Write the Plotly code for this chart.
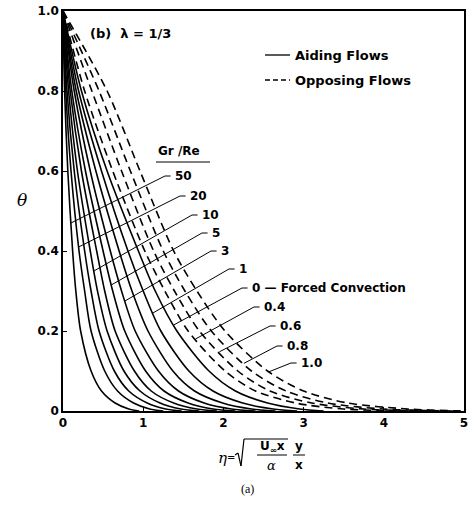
import numpy as np
import plotly.graph_objects as go

# ---------------- data ----------------
theta_levels = [1.0, 0.8, 0.6, 0.4, 0.3, 0.2, 0.1, 0.05, 0.02, 0.005, 0.0]

# aiding flows (solid), eta at each theta level, steepest first
aiding_labels = ["50", "20", "", "10", "", "5", "3", "", "1", "0"]
aiding_eta = [
    [0, 0.020, 0.06, 0.12, 0.16, 0.22, 0.35, 0.48, 0.65, 0.82, 0.95],
    [0, 0.035, 0.10, 0.20, 0.27, 0.35, 0.52, 0.68, 0.88, 1.08, 1.25],
    [0, 0.050, 0.14, 0.27, 0.35, 0.45, 0.64, 0.82, 1.05, 1.28, 1.48],
    [0, 0.070, 0.18, 0.34, 0.43, 0.55, 0.76, 0.96, 1.21, 1.47, 1.70],
    [0, 0.090, 0.23, 0.42, 0.52, 0.65, 0.89, 1.10, 1.38, 1.67, 1.92],
    [0, 0.110, 0.28, 0.50, 0.62, 0.77, 1.03, 1.26, 1.56, 1.87, 2.15],
    [0, 0.140, 0.34, 0.59, 0.73, 0.90, 1.19, 1.44, 1.76, 2.10, 2.40],
    [0, 0.165, 0.41, 0.70, 0.86, 1.06, 1.37, 1.64, 1.99, 2.35, 2.65],
    [0, 0.195, 0.48, 0.81, 1.00, 1.22, 1.57, 1.87, 2.24, 2.62, 2.92],
    [0, 0.230, 0.55, 0.94, 1.15, 1.42, 1.82, 2.15, 2.55, 2.95, 3.25],
]

# opposing flows (dashed)
opposing_labels = ["0.4", "0.6", "0.8", "1.0"]
opposing_eta = [
    [0, 0.27, 0.62, 1.02, 1.27, 1.56, 2.02, 2.40, 2.90, 3.50, 4.30],
    [0, 0.36, 0.73, 1.13, 1.39, 1.70, 2.18, 2.58, 3.10, 3.75, 4.60],
    [0, 0.45, 0.84, 1.25, 1.52, 1.85, 2.35, 2.78, 3.30, 4.00, 4.90],
    [0, 0.55, 0.96, 1.38, 1.67, 2.02, 2.55, 3.00, 3.55, 4.30, 5.00],
]

x_ticks = [0, 1, 2, 3, 4, 5]
y_ticks = [0, 0.2, 0.4, 0.6, 0.8, 1.0]
y_ticktext = ["0", "0.2", "0.4", "0.6", "0.8", "1.0"]

# theta at which each label's leader line touches its curve
leader_theta = {"50": 0.47, "20": 0.41, "10": 0.35, "5": 0.315, "3": 0.275,
                "1": 0.245, "0": 0.215, "0.4": 0.18, "0.6": 0.148,
                "0.8": 0.119, "1.0": 0.098}

# ---------------- layout constants ----------------
W, H = 470, 506
L, R, T, B = 63, 6, 11, 95
PW, PH = W - L - R, H - T - B


def px2data(px, py):
    return (px - L) / PW * 5.0, (T + PH - py) / PH * 1.0


def px2paper(px, py):
    return (px - L) / PW, (T + PH - py) / PH


# label positions (pixel, left edge / vertical centre)
label_px = {"50": (173, 176), "20": (188, 196), "10": (200, 215), "5": (210, 233),
            "3": (219, 251), "1": (237, 269), "0": (250, 288), "0.4": (262, 307),
            "0.6": (278, 326), "0.8": (285, 346), "1.0": (299, 363)}

FONT = "DejaVu Sans"
fig = go.Figure()

for eta in aiding_eta:
    fig.add_trace(go.Scatter(x=eta, y=theta_levels, mode="lines",
                             line=dict(color="black", width=1.6, shape="spline", smoothing=0.8),
                             showlegend=False, hoverinfo="skip"))
for eta in opposing_eta:
    fig.add_trace(go.Scatter(x=eta, y=theta_levels, mode="lines",
                             line=dict(color="black", width=1.6, dash="8px,5px",
                                       shape="spline", smoothing=0.8),
                             showlegend=False, hoverinfo="skip"))

shapes = []
annotations = []

# leader lines + labels
curves = list(zip(aiding_labels, aiding_eta)) + list(zip(opposing_labels, opposing_eta))
for lab, eta in curves:
    if not lab:
        continue
    th0 = leader_theta[lab]
    eta0 = float(np.interp(th0, theta_levels[::-1], eta[::-1]))
    lx, ly = px2data(*label_px[lab])
    xe = lx - 0.03
    xb = xe - 0.07
    shapes.append(dict(type="line", xref="x", yref="y", x0=eta0, y0=th0, x1=xb, y1=ly,
                       line=dict(color="black", width=1)))
    shapes.append(dict(type="line", xref="x", yref="y", x0=xb, y0=ly, x1=xe, y1=ly,
                       line=dict(color="black", width=1)))
    text = "0 — Forced Convection" if lab == "0" else lab
    annotations.append(dict(x=lx, y=ly, xref="x", yref="y", text=text, showarrow=False,
                            xanchor="left", yanchor="middle",
                            font=dict(family=FONT, size=12, color="black", weight="bold")))

# title inside plot
tx, ty = px2data(88, 33)
annotations.append(dict(x=tx, y=ty, xref="x", yref="y", text="(b)  λ = 1/3", showarrow=False,
                        xanchor="left", yanchor="middle",
                        font=dict(family=FONT, size=13, color="black", weight="bold")))

# Gr/Re header with underline
gx, gy = px2data(179, 151)
annotations.append(dict(x=gx, y=gy, xref="x", yref="y", text="Gr /Re", showarrow=False,
                        xanchor="center", yanchor="middle",
                        font=dict(family=FONT, size=12, color="black", weight="bold")))
ux0, uy = px2data(156, 162)
ux1, _ = px2data(210, 162)
shapes.append(dict(type="line", xref="x", yref="y", x0=ux0, y0=uy, x1=ux1, y1=uy,
                   line=dict(color="black", width=1)))

# legend
for py, dash, txt in [(55, "solid", "Aiding Flows"), (80, "5px,3px", "Opposing Flows")]:
    x0, yy = px2data(265, py)
    x1, _ = px2data(290, py)
    shapes.append(dict(type="line", xref="x", yref="y", x0=x0, y0=yy, x1=x1, y1=yy,
                       line=dict(color="black", width=1.3, dash=dash)))
    xt, _ = px2data(293, py)
    annotations.append(dict(x=xt, y=yy, xref="x", yref="y", text=txt, showarrow=False,
                            xanchor="left", yanchor="middle",
                            font=dict(family=FONT, size=13, color="black", weight="bold")))

# y-axis title
ax, ay = px2paper(22, 200)
annotations.append(dict(x=ax, y=ay, xref="paper", yref="paper", text="<i>θ</i>", showarrow=False,
                        xanchor="center", yanchor="middle",
                        font=dict(family="DejaVu Serif", size=17, color="black")))


# x-axis title: eta = sqrt(U_inf x / alpha) * y / x
def ann_px(px, py, text, size=13, anchor="center", family=FONT, weight="bold"):
    xx, yy = px2paper(px, py)
    annotations.append(dict(x=xx, y=yy, xref="paper", yref="paper", text=text, showarrow=False,
                            xanchor=anchor, yanchor="middle",
                            font=dict(family=family, size=size, color="black", weight=weight)))


def line_px(x0, y0, x1, y1, w=1):
    a, b = px2paper(x0, y0)
    c, d = px2paper(x1, y1)
    shapes.append(dict(type="line", xref="paper", yref="paper", x0=a, y0=b, x1=c, y1=d,
                       line=dict(color="black", width=w)))


ann_px(222, 458, "<i>η</i>", size=15, family="DejaVu Serif", weight="normal")
ann_px(231, 457, "=", size=10, weight="normal")
line_px(235, 455, 238, 453, w=1.2)
line_px(238, 453, 241, 466, w=1.2)
line_px(241, 466, 244, 439, w=1.2)
line_px(244, 439, 288, 439, w=1.2)
ann_px(272, 447, "U<sub>∞</sub>x", size=12)
line_px(257, 455, 287, 455)
ann_px(271, 465, "<i>α</i>", size=13, family="DejaVu Serif", weight="normal")
ann_px(299, 446, "y", size=12)
line_px(293, 455, 305, 455)
ann_px(299, 465, "x", size=12)

ann_px(247, 489, "(a)", size=12, family="Liberation Serif", weight="normal")

axis_common = dict(ticks="inside", ticklen=4, tickcolor="black", showgrid=False,
                   zeroline=False, showline=True, linecolor="black", linewidth=1.5,
                   mirror=True, automargin=False,
                   tickfont=dict(family=FONT, size=12, color="black", weight="bold"))

fig.update_layout(
    width=W, height=H,
    margin=dict(l=L, r=R, t=T, b=B, pad=0, autoexpand=False),
    paper_bgcolor="white", plot_bgcolor="white",
    showlegend=False,
    shapes=shapes, annotations=annotations,
    xaxis=dict(range=[0, 5], tickvals=x_ticks, **axis_common),
    yaxis=dict(range=[0, 1], tickvals=y_ticks, ticktext=y_ticktext, **axis_common),
)

fig.write_html("out.html", config={"displayModeBar": False},
               post_script="document.body.style.margin='0px';document.body.style.padding='0px';")
